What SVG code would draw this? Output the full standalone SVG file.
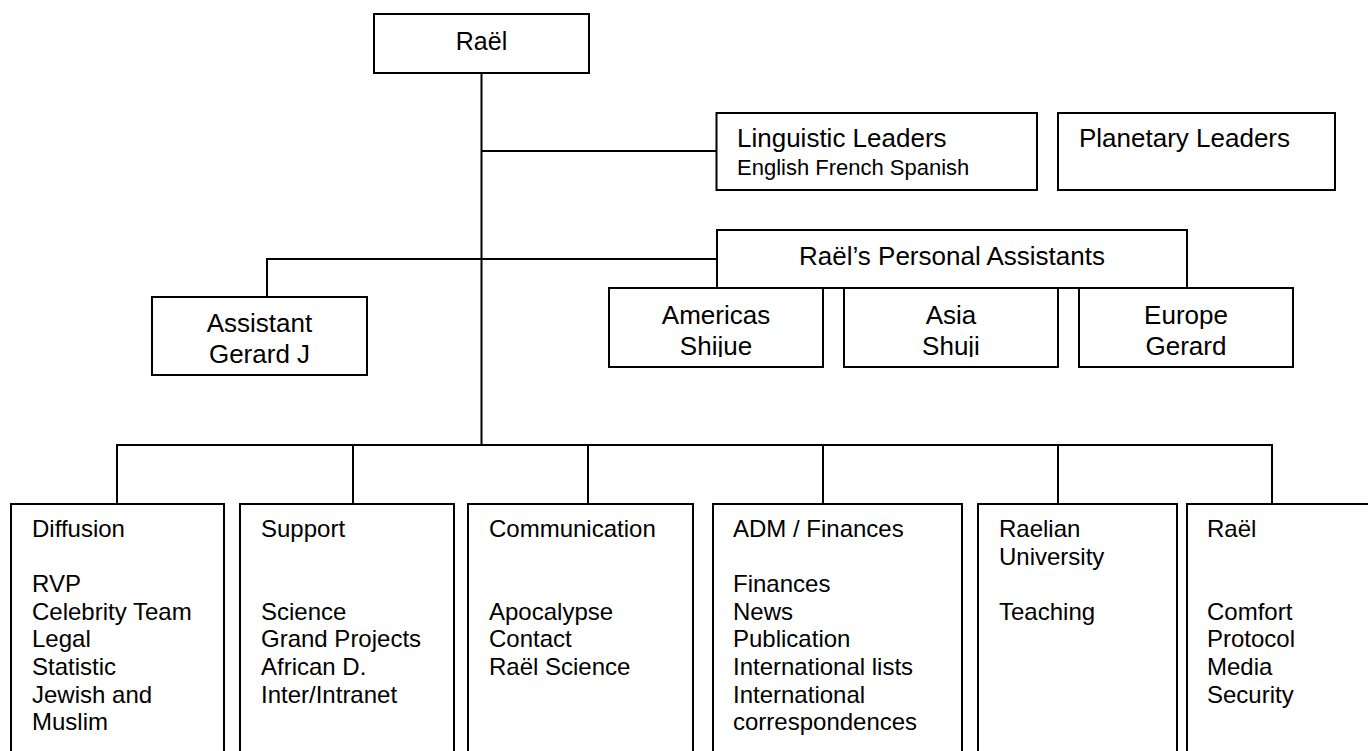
<svg xmlns="http://www.w3.org/2000/svg" width="1368" height="751" viewBox="0 0 1368 751">
  <style>
    .box { fill: #ffffff; stroke: #000000; stroke-width: 2; }
    .conn { fill: none; stroke: #000000; stroke-width: 2; }
    .t { font-family: "Liberation Sans", Arial, sans-serif; fill: #000000; }
    .mid { font-size: 26px; text-anchor: middle; }
    .lead { font-size: 26px; }
    .small { font-size: 22px; }
    .dept { font-size: 24px; }
  </style>
  <defs>
    <clipPath id="subclip">
      <rect x="600" y="288" width="720" height="69"/>
    </clipPath>
  </defs>
  <rect width="1368" height="751" fill="#ffffff"/>

  <g id="connectors">
    <line class="conn" x1="481.5" y1="73" x2="481.5" y2="445"/>
    <line class="conn" x1="481.5" y1="151" x2="716.5" y2="151"/>
    <polyline class="conn" points="267,297 267,259 717,259"/>
    <polyline class="conn" points="117,504 117,445 1272,445 1272,504"/>
    <line class="conn" x1="353" y1="445" x2="353" y2="504"/>
    <line class="conn" x1="588" y1="445" x2="588" y2="504"/>
    <line class="conn" x1="823" y1="445" x2="823" y2="504"/>
    <line class="conn" x1="1058" y1="445" x2="1058" y2="504"/>
  </g>

  <g id="rael-top">
    <rect class="box" x="374" y="14" width="215" height="59"/>
    <text class="t mid" x="481.5" y="50" style="font-size:25px">Raël</text>
  </g>

  <g id="linguistic-leaders">
    <rect class="box" x="716.5" y="113" width="320.5" height="77"/>
    <text class="t lead" x="737" y="147">Linguistic Leaders</text>
    <text class="t small" x="737" y="175">English French Spanish</text>
  </g>

  <g id="planetary-leaders">
    <rect class="box" x="1058" y="113" width="277" height="77"/>
    <text class="t lead" x="1079" y="147">Planetary Leaders</text>
  </g>

  <g id="personal-assistants">
    <rect class="box" x="717" y="230" width="470" height="58"/>
    <text class="t mid" x="952" y="265">Raël’s Personal Assistants</text>
  </g>

  <g id="americas">
    <rect class="box" x="609" y="288" width="214" height="79"/>
    <g clip-path="url(#subclip)">
      <text class="t mid" x="716" y="324">Americas</text>
      <text class="t mid" x="716" y="355">Shijue</text>
    </g>
  </g>

  <g id="asia">
    <rect class="box" x="844" y="288" width="214" height="79"/>
    <g clip-path="url(#subclip)">
      <text class="t mid" x="951" y="324">Asia</text>
      <text class="t mid" x="951" y="355">Shuji</text>
    </g>
  </g>

  <g id="europe">
    <rect class="box" x="1079" y="288" width="214" height="79"/>
    <text class="t mid" x="1186" y="324">Europe</text>
    <text class="t mid" x="1186" y="355">Gerard</text>
  </g>

  <g id="assistant">
    <rect class="box" x="152" y="297" width="215" height="78"/>
    <text class="t mid" x="259.5" y="332">Assistant</text>
    <text class="t mid" x="259.5" y="363">Gerard J</text>
  </g>

  <g id="diffusion">
    <rect class="box" x="11" y="504" width="213" height="260"/>
    <text class="t dept" x="32" y="537">Diffusion</text>
    <text class="t dept" x="32" y="592.2">RVP</text>
    <text class="t dept" x="32" y="619.8">Celebrity Team</text>
    <text class="t dept" x="32" y="647.4">Legal</text>
    <text class="t dept" x="32" y="675">Statistic</text>
    <text class="t dept" x="32" y="702.6">Jewish and</text>
    <text class="t dept" x="32" y="730.2">Muslim</text>
  </g>

  <g id="support">
    <rect class="box" x="240" y="504" width="214" height="260"/>
    <text class="t dept" x="261" y="537">Support</text>
    <text class="t dept" x="261" y="619.8">Science</text>
    <text class="t dept" x="261" y="647.4">Grand Projects</text>
    <text class="t dept" x="261" y="675">African D.</text>
    <text class="t dept" x="261" y="702.6">Inter/Intranet</text>
  </g>

  <g id="communication">
    <rect class="box" x="468" y="504" width="225" height="260"/>
    <text class="t dept" x="489" y="537">Communication</text>
    <text class="t dept" x="489" y="619.8">Apocalypse</text>
    <text class="t dept" x="489" y="647.4">Contact</text>
    <text class="t dept" x="489" y="675">Raël Science</text>
  </g>

  <g id="adm-finances">
    <rect class="box" x="713" y="504" width="249" height="260"/>
    <text class="t dept" x="733" y="537">ADM / Finances</text>
    <text class="t dept" x="733" y="592.2">Finances</text>
    <text class="t dept" x="733" y="619.8">News</text>
    <text class="t dept" x="733" y="647.4">Publication</text>
    <text class="t dept" x="733" y="675">International lists</text>
    <text class="t dept" x="733" y="702.6">International</text>
    <text class="t dept" x="733" y="730.2">correspondences</text>
  </g>

  <g id="raelian-university">
    <rect class="box" x="978" y="504" width="199" height="260"/>
    <text class="t dept" x="999" y="537">Raelian</text>
    <text class="t dept" x="999" y="564.6">University</text>
    <text class="t dept" x="999" y="619.8">Teaching</text>
  </g>

  <g id="rael-dept">
    <rect class="box" x="1187" y="504" width="200" height="260"/>
    <text class="t dept" x="1207" y="537">Raël</text>
    <text class="t dept" x="1207" y="619.8">Comfort</text>
    <text class="t dept" x="1207" y="647.4">Protocol</text>
    <text class="t dept" x="1207" y="675">Media</text>
    <text class="t dept" x="1207" y="702.6">Security</text>
  </g>
</svg>
